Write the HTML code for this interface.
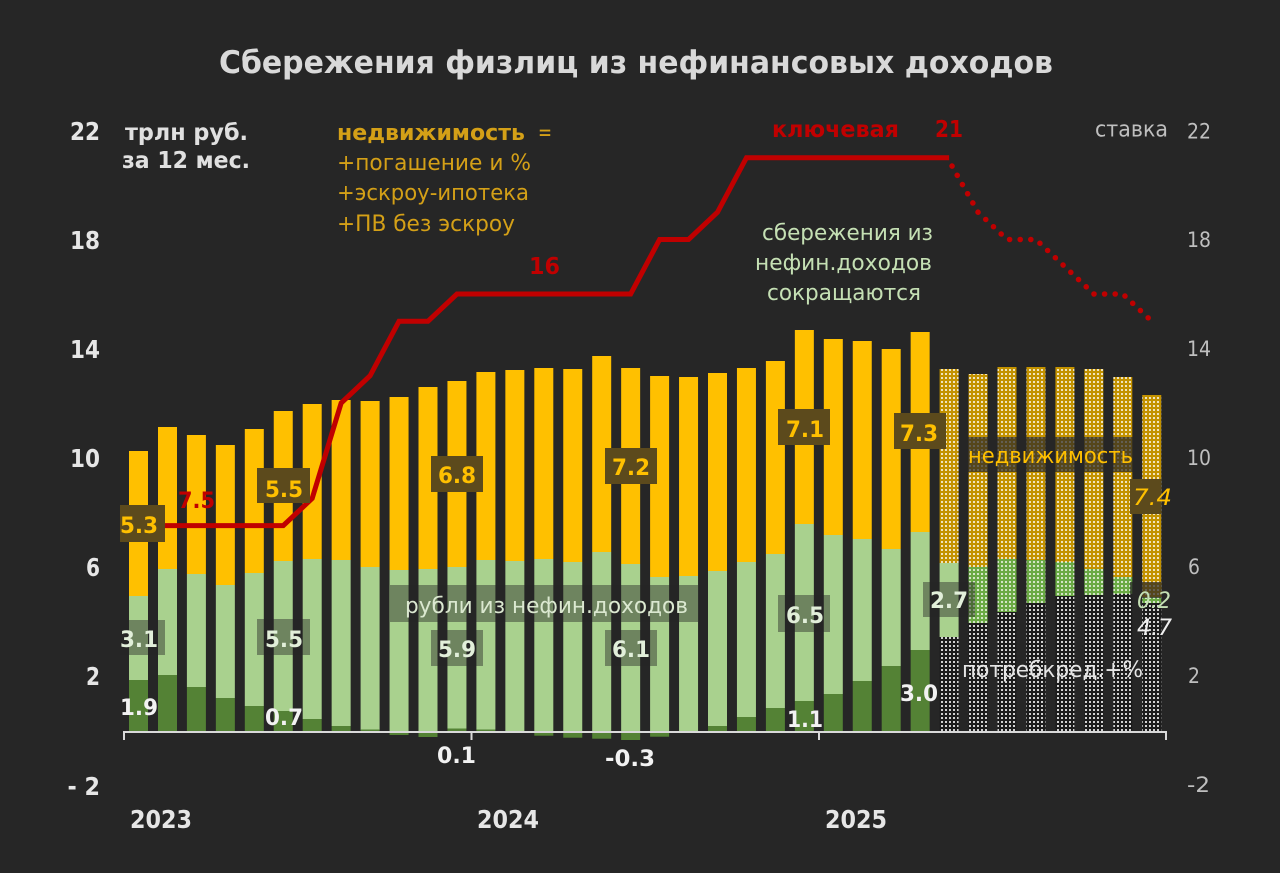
<!DOCTYPE html>
<html>
<head>
<meta charset="utf-8">
<style>
html,body{margin:0;padding:0;background:#262626;}
svg{display:block;}
text{font-family:"DejaVu Sans","Liberation Sans",sans-serif;}
</style>
</head>
<body>
<svg width="1280" height="873" viewBox="0 0 1280 873" xmlns="http://www.w3.org/2000/svg">
<defs>
<pattern id="pGold" patternUnits="userSpaceOnUse" width="4" height="4">
<rect width="4" height="4" fill="#c39200"/>
<rect x="1" y="1" width="2" height="2" fill="#ffffff" fill-opacity="0.75"/>
</pattern>
<pattern id="pGreen" patternUnits="userSpaceOnUse" width="4" height="4">
<rect width="4" height="4" fill="#6aaa44"/>
<rect x="1" y="1" width="2" height="2" fill="#ffffff" fill-opacity="0.7"/>
</pattern>
<pattern id="pBlack" patternUnits="userSpaceOnUse" width="4" height="4">
<rect width="4" height="4" fill="#1c1c1c"/>
<rect x="1" y="1" width="2" height="2" fill="#ffffff" fill-opacity="0.8"/>
</pattern>
</defs>
<rect width="1280" height="873" fill="#262626"/>

<!-- Title -->
<text x="219" y="73" font-size="31" font-weight="bold" fill="#d9d9d9" textLength="834" lengthAdjust="spacingAndGlyphs">Сбережения физлиц из нефинансовых доходов</text>

<!-- Left axis labels -->
<g font-size="25" font-weight="bold" fill="#e6e6e6">
<text x="70" y="140" textLength="30" lengthAdjust="spacingAndGlyphs">22</text>
<text x="70" y="249" textLength="30" lengthAdjust="spacingAndGlyphs">18</text>
<text x="70" y="358" textLength="30" lengthAdjust="spacingAndGlyphs">14</text>
<text x="70" y="467" textLength="30" lengthAdjust="spacingAndGlyphs">10</text>
<text x="86" y="576" textLength="14" lengthAdjust="spacingAndGlyphs">6</text>
<text x="86" y="685" textLength="14" lengthAdjust="spacingAndGlyphs">2</text>
<text x="67.5" y="795" textLength="32.5" lengthAdjust="spacingAndGlyphs">- 2</text>
</g>

<!-- Right axis labels -->
<g font-size="21" fill="#bfbfbf">
<text x="1187" y="138.5" textLength="24" lengthAdjust="spacingAndGlyphs">22</text>
<text x="1187" y="247" textLength="24" lengthAdjust="spacingAndGlyphs">18</text>
<text x="1187" y="356" textLength="24" lengthAdjust="spacingAndGlyphs">14</text>
<text x="1187" y="465" textLength="24" lengthAdjust="spacingAndGlyphs">10</text>
<text x="1188" y="574" textLength="12" lengthAdjust="spacingAndGlyphs">6</text>
<text x="1188" y="683" textLength="12" lengthAdjust="spacingAndGlyphs">2</text>
<text x="1187" y="792" textLength="23" lengthAdjust="spacingAndGlyphs">-2</text>
</g>

<!-- Top-left unit text -->
<g font-size="23" font-weight="bold" fill="#e0e0e0">
<text x="125" y="140" textLength="123" lengthAdjust="spacingAndGlyphs">трлн руб.</text>
<text x="122" y="168" textLength="128" lengthAdjust="spacingAndGlyphs">за 12 мес.</text>
</g>

<!-- недвижимость legend text -->
<g font-size="22" fill="#d4a017">
<text x="337" y="140" font-weight="bold" textLength="188" lengthAdjust="spacingAndGlyphs">недвижимость</text>
<text x="538" y="140" textLength="14" lengthAdjust="spacingAndGlyphs">=</text>
<text x="337" y="170" textLength="194" lengthAdjust="spacingAndGlyphs">+погашение и %</text>
<text x="337" y="200" textLength="192" lengthAdjust="spacingAndGlyphs">+эскроу-ипотека</text>
<text x="337" y="231" textLength="178" lengthAdjust="spacingAndGlyphs">+ПВ без эскроу</text>
</g>

<!-- key rate labels -->
<text x="772" y="137" font-size="23" font-weight="bold" fill="#c00000" textLength="127" lengthAdjust="spacingAndGlyphs">ключевая</text>
<text x="935" y="137" font-size="23" font-weight="bold" fill="#c00000" textLength="28" lengthAdjust="spacingAndGlyphs">21</text>
<text x="1095" y="136.5" font-size="22" fill="#bfbfbf" textLength="73" lengthAdjust="spacingAndGlyphs">ставка</text>
<text x="529" y="274" font-size="23" font-weight="bold" fill="#c00000" textLength="31" lengthAdjust="spacingAndGlyphs">16</text>

<!-- сбережения сокращаются -->
<g font-size="22" fill="#c5e0b4">
<text x="762" y="240" textLength="171" lengthAdjust="spacingAndGlyphs">сбережения из</text>
<text x="755" y="270" textLength="177" lengthAdjust="spacingAndGlyphs">нефин.доходов</text>
<text x="767" y="300" textLength="154" lengthAdjust="spacingAndGlyphs">сокращаются</text>
</g>

<!-- Actual bars -->
<g>
<g fill="#ffc000">
<rect x="129" y="451" width="19" height="145"/>
<rect x="158" y="427" width="19" height="142"/>
<rect x="186.9" y="435" width="19" height="139"/>
<rect x="215.85" y="445" width="19" height="140"/>
<rect x="244.8" y="429" width="19" height="144"/>
<rect x="273.75" y="411" width="19" height="150"/>
<rect x="302.7" y="404" width="19" height="155"/>
<rect x="331.65" y="400" width="19" height="160"/>
<rect x="360.6" y="401" width="19" height="166"/>
<rect x="389.55" y="397" width="19" height="173"/>
<rect x="418.5" y="387" width="19" height="182"/>
<rect x="447.45" y="381" width="19" height="186"/>
<rect x="476.4" y="372" width="19" height="188"/>
<rect x="505.35" y="370" width="19" height="191"/>
<rect x="534.3" y="368" width="19" height="191"/>
<rect x="563.25" y="369" width="19" height="193"/>
<rect x="592.2" y="356" width="19" height="196"/>
<rect x="621.15" y="368" width="19" height="196"/>
<rect x="650.1" y="376" width="19" height="201"/>
<rect x="679.05" y="377" width="19" height="199"/>
<rect x="708" y="373" width="19" height="198"/>
<rect x="736.95" y="368" width="19" height="194"/>
<rect x="765.9" y="361" width="19" height="193"/>
<rect x="794.85" y="330" width="19" height="194"/>
<rect x="823.8" y="339" width="19" height="196"/>
<rect x="852.75" y="341" width="19" height="198"/>
<rect x="881.7" y="349" width="19" height="200"/>
<rect x="910.65" y="332" width="19" height="200"/>
</g>
<g fill="#a9d18e">
<rect x="129" y="596" width="19" height="84"/>
<rect x="158" y="569" width="19" height="106"/>
<rect x="186.9" y="574" width="19" height="113"/>
<rect x="215.85" y="585" width="19" height="113"/>
<rect x="244.8" y="573" width="19" height="133"/>
<rect x="273.75" y="561" width="19" height="150"/>
<rect x="302.7" y="559" width="19" height="160"/>
<rect x="331.65" y="560" width="19" height="166"/>
<rect x="360.6" y="567" width="19" height="163"/>
<rect x="389.55" y="570" width="19" height="161"/>
<rect x="418.5" y="569" width="19" height="162"/>
<rect x="447.45" y="567" width="19" height="161.5"/>
<rect x="476.4" y="560" width="19" height="169.5"/>
<rect x="505.35" y="561" width="19" height="170"/>
<rect x="534.3" y="559" width="19" height="172"/>
<rect x="563.25" y="562" width="19" height="169"/>
<rect x="592.2" y="552" width="19" height="179"/>
<rect x="621.15" y="564" width="19" height="167"/>
<rect x="650.1" y="577" width="19" height="154"/>
<rect x="679.05" y="576" width="19" height="155"/>
<rect x="708" y="571" width="19" height="155"/>
<rect x="736.95" y="562" width="19" height="155"/>
<rect x="765.9" y="554" width="19" height="154"/>
<rect x="794.85" y="524" width="19" height="177"/>
<rect x="823.8" y="535" width="19" height="159"/>
<rect x="852.75" y="539" width="19" height="142"/>
<rect x="881.7" y="549" width="19" height="117"/>
<rect x="910.65" y="532" width="19" height="118"/>
<rect x="939.6" y="563" width="19" height="74"/>
</g>
<g fill="#548235">
<rect x="129" y="680" width="19" height="51"/>
<rect x="158" y="675" width="19" height="56"/>
<rect x="186.9" y="687" width="19" height="44"/>
<rect x="215.85" y="698" width="19" height="33"/>
<rect x="244.8" y="706" width="19" height="25"/>
<rect x="273.75" y="711" width="19" height="20"/>
<rect x="302.7" y="719" width="19" height="12"/>
<rect x="331.65" y="726" width="19" height="5"/>
<rect x="360.6" y="729.5" width="19" height="1.5"/>
<rect x="389.55" y="731" width="19" height="4"/>
<rect x="418.5" y="731" width="19" height="6"/>
<rect x="447.45" y="728.5" width="19" height="2.5"/>
<rect x="476.4" y="729.5" width="19" height="1.5"/>
<rect x="534.3" y="731" width="19" height="4.7"/>
<rect x="563.25" y="731" width="19" height="6.7"/>
<rect x="592.2" y="731" width="19" height="7.7"/>
<rect x="621.15" y="731" width="19" height="9"/>
<rect x="650.1" y="731" width="19" height="5.7"/>
<rect x="708" y="726" width="19" height="5"/>
<rect x="736.95" y="717" width="19" height="14"/>
<rect x="765.9" y="708" width="19" height="23"/>
<rect x="794.85" y="701" width="19" height="30"/>
<rect x="823.8" y="694" width="19" height="37"/>
<rect x="852.75" y="681" width="19" height="50"/>
<rect x="881.7" y="666" width="19" height="65"/>
<rect x="910.65" y="650" width="19" height="81"/>
</g>
</g>

<!-- Forecast bars -->
<g fill="url(#pGold)">
<rect x="939.6" y="369" width="19" height="194"/>
<rect x="968.55" y="374" width="19" height="193"/>
<rect x="997.5" y="367" width="19" height="192"/>
<rect x="1026.45" y="367" width="19" height="193"/>
<rect x="1055.4" y="367" width="19" height="195"/>
<rect x="1084.35" y="369" width="19" height="200"/>
<rect x="1113.3" y="377" width="19" height="200"/>
<rect x="1142.25" y="395" width="19" height="202"/>
</g>
<g fill="url(#pGreen)">
<rect x="968.55" y="567" width="19" height="56"/>
<rect x="997.5" y="559" width="19" height="53"/>
<rect x="1026.45" y="560" width="19" height="43"/>
<rect x="1055.4" y="562" width="19" height="34"/>
<rect x="1084.35" y="569" width="19" height="26"/>
<rect x="1113.3" y="577" width="19" height="17"/>
<rect x="1142.25" y="597" width="19" height="6"/>
</g>
<g fill="url(#pBlack)">
<rect x="939.6" y="637" width="19" height="94"/>
<rect x="968.55" y="623" width="19" height="108"/>
<rect x="997.5" y="612" width="19" height="119"/>
<rect x="1026.45" y="603" width="19" height="128"/>
<rect x="1055.4" y="596" width="19" height="135"/>
<rect x="1084.35" y="595" width="19" height="136"/>
<rect x="1113.3" y="594" width="19" height="137"/>
<rect x="1142.25" y="603" width="19" height="128"/>
</g>

<!-- Axis -->
<g stroke="#d9d9d9" stroke-width="2" fill="none">
<line x1="124" y1="732" x2="1166" y2="732"/>
<line x1="124" y1="731" x2="124" y2="740"/>
<line x1="471.5" y1="731" x2="471.5" y2="740"/>
<line x1="819" y1="731" x2="819" y2="740"/>
<line x1="1166" y1="731" x2="1166" y2="740"/>
</g>

<!-- Key rate line -->
<polyline fill="none" stroke="#c00000" stroke-width="5" stroke-linejoin="miter"
points="138.5,525.6 283.25,525.6 312.2,498.4 341.15,403 370.1,375.75 399.05,321.25 428,321.25 456.95,294 630.65,294 659.6,239.5 688.55,239.5 717.5,212.25 746.45,157.75 949.1,157.75"/>
<polyline fill="none" stroke="#c00000" stroke-width="5.5" stroke-linecap="round" stroke-dasharray="0.1 10.5"
points="952,166 978.05,212.25 1007,239.5 1035.95,239.5 1064.9,266.75 1093.85,294 1122.8,294 1151.75,321.25"/>

<!-- Label boxes (gold, opaque) -->
<g fill="#5c4a1c">
<rect x="120" y="505" width="45" height="37"/>
<rect x="257" y="468" width="53" height="35"/>
<rect x="431" y="456" width="52" height="36"/>
<rect x="605" y="448" width="52" height="36"/>
<rect x="778" y="409" width="52" height="36"/>
<rect x="894" y="413" width="52" height="36"/>
<rect x="1130" y="479" width="31" height="35"/>
</g>
<g fill="#262626" fill-opacity="0.7">
<rect x="967" y="437" width="166" height="35"/>
<rect x="1130" y="582" width="31" height="16"/>
</g>
<g fill="#262626" fill-opacity="0.45">
<rect x="120" y="620" width="45" height="35"/>
<rect x="257" y="619" width="53" height="36"/>
<rect x="431" y="630" width="52" height="36"/>
<rect x="605" y="630" width="52" height="36"/>
<rect x="778" y="595" width="52" height="37"/>
<rect x="923" y="582" width="52" height="35"/>
<rect x="390" y="585" width="308" height="37"/>
</g>

<!-- Gold value labels -->
<g font-size="22" font-weight="bold" fill="#ffc000">
<text x="120" y="533" textLength="38" lengthAdjust="spacingAndGlyphs">5.3</text>
<text x="265" y="497" textLength="38" lengthAdjust="spacingAndGlyphs">5.5</text>
<text x="438" y="483" textLength="38" lengthAdjust="spacingAndGlyphs">6.8</text>
<text x="612" y="475" textLength="38" lengthAdjust="spacingAndGlyphs">7.2</text>
<text x="786" y="437" textLength="38" lengthAdjust="spacingAndGlyphs">7.1</text>
<text x="900" y="441" textLength="38" lengthAdjust="spacingAndGlyphs">7.3</text>
</g>
<text x="178" y="508" font-size="22" font-weight="bold" fill="#c00000" textLength="37" lengthAdjust="spacingAndGlyphs">7.5</text>

<!-- Light green value labels -->
<g font-size="22" font-weight="bold" fill="#e2efda">
<text x="120" y="647" textLength="38" lengthAdjust="spacingAndGlyphs">3.1</text>
<text x="265" y="647" textLength="38" lengthAdjust="spacingAndGlyphs">5.5</text>
<text x="438" y="657" textLength="38" lengthAdjust="spacingAndGlyphs">5.9</text>
<text x="612" y="657" textLength="38" lengthAdjust="spacingAndGlyphs">6.1</text>
<text x="786" y="623" textLength="38" lengthAdjust="spacingAndGlyphs">6.5</text>
<text x="930" y="608" textLength="38" lengthAdjust="spacingAndGlyphs">2.7</text>
</g>

<!-- Dark green value labels -->
<g font-size="22" font-weight="bold" fill="#f2f2f2">
<text x="120" y="715" textLength="38" lengthAdjust="spacingAndGlyphs">1.9</text>
<text x="265" y="725" textLength="38" lengthAdjust="spacingAndGlyphs">0.7</text>
<text x="787" y="727" textLength="36" lengthAdjust="spacingAndGlyphs">1.1</text>
<text x="900" y="701" textLength="38" lengthAdjust="spacingAndGlyphs">3.0</text>
<text x="437" y="763" textLength="39" lengthAdjust="spacingAndGlyphs">0.1</text>
<text x="605" y="766" textLength="50" lengthAdjust="spacingAndGlyphs">-0.3</text>
</g>

<!-- Series labels -->
<text x="405" y="613" font-size="22" fill="#dbe8d0" textLength="283" lengthAdjust="spacingAndGlyphs">рубли из нефин.доходов</text>
<text x="968" y="463" font-size="22" fill="#ffc000" textLength="165" lengthAdjust="spacingAndGlyphs">недвижимость</text>
<text x="962" y="677" font-size="22" fill="#e6e6e6" textLength="181" lengthAdjust="spacingAndGlyphs">потребкред.+%</text>
<text x="1133" y="505" font-size="22" font-style="italic" fill="#ffc000" textLength="39" lengthAdjust="spacingAndGlyphs">7.4</text>
<text x="1137" y="608" font-size="22" font-style="italic" fill="#c5e0b4" textLength="34" lengthAdjust="spacingAndGlyphs">0.2</text>
<text x="1137" y="635" font-size="22" font-style="italic" fill="#f0f0f0" textLength="35" lengthAdjust="spacingAndGlyphs">4.7</text>

<!-- Year labels -->
<g font-size="25" font-weight="bold" fill="#e6e6e6">
<text x="130" y="828" textLength="62" lengthAdjust="spacingAndGlyphs">2023</text>
<text x="477" y="828" textLength="62" lengthAdjust="spacingAndGlyphs">2024</text>
<text x="825" y="828" textLength="62" lengthAdjust="spacingAndGlyphs">2025</text>
</g>
</svg>
</body>
</html>
